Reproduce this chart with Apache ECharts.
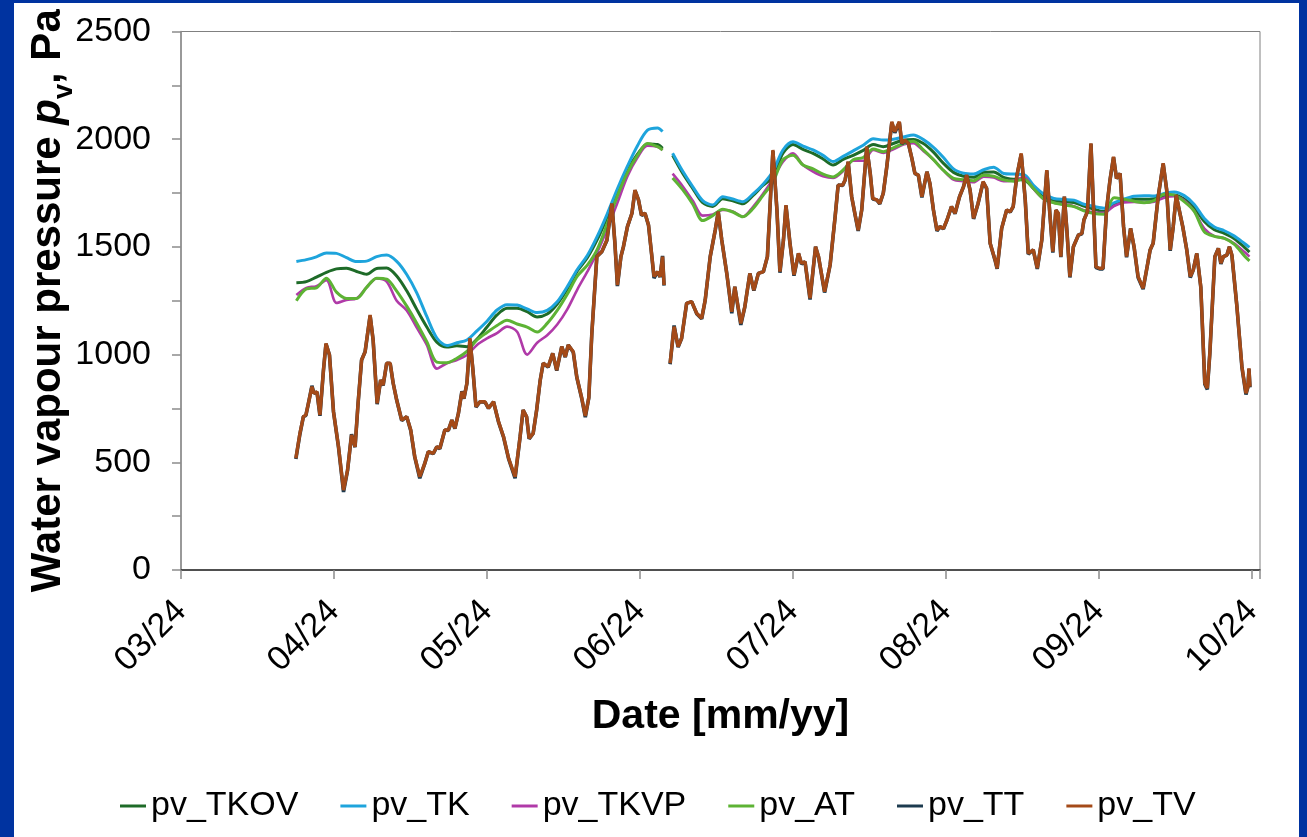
<!DOCTYPE html>
<html><head><meta charset="utf-8">
<script src="https://cdn.jsdelivr.net/npm/echarts@6/dist/echarts.min.js"></script>
<style>
html,body{margin:0;padding:0;width:1307px;height:837px;background:#0033a0;overflow:hidden}
#chart{position:absolute;left:14px;top:3px;width:1285px;height:834px;background:#fff}
</style></head><body><div id="chart"></div>
<script>
// x values are days counted from 03/24 (one axis month = 30.5 days, as on the reference axis)
const tickLabels = ['03/24','04/24','05/24','06/24','07/24','08/24','09/24','10/24'];
const monthDays = 30.5;
const seriesNames = ['pv_TKOV','pv_TK','pv_TKVP','pv_AT','pv_TT','pv_TV'];

const smoothDays = [23,25,27,29,31,33,35,37,39,41,43,45,47,49,51,53,55,57,59,61,63,65,67,69,71,73,75,77,79,81,83,85,87,89,91,93,95,
  96,97,98,
  100,102,104,106,108,110,112,114,116,118,120,122,124,126,128,130,132,134,136,138,140,142,144,146,148,150,152,154,156,158,
  160,162,164,166,168,170,172,174,176,178,180,182,184,186,188,190,192,194,196,198,200,202,204,206,208,210,212,213];

const pvTK = [1432,1441,1454,1472,1470,1450,1432,1434,1455,1462,1433,1372,1287,1177,1077,1042,1055,1068,1110,1155,
  1207,1232,1230,1212,1195,1205,1245,1315,1395,1460,1550,1655,1770,1875,1970,2042,2052,
  2036,null,1935,
  1852,1780,1715,1695,1733,1722,1710,1745,1790,1850,1950,1988,1968,1950,1925,1896,1920,1946,1972,2002,
  1996,2000,2010,2020,1998,1962,1915,1862,1842,1838,1858,1870,1841,1838,1836,1785,1745,1725,1720,1717,
  1698,1688,1680,1705,1722,1735,1738,1736,1748,1755,1738,1697,1632,1592,1575,1550,1516,1498];

const pvTKOV = [1334,1339,1360,1382,1398,1401,1386,1373,1400,1402,1365,1296,1210,1128,1058,1035,1041,1037,1072,1128,
  1184,1215,1215,1199,1175,1188,1235,1305,1388,1450,1535,1640,1750,1855,1930,1978,1975,
  1958,null,1925,
  1842,1772,1705,1688,1724,1714,1700,1738,1785,1825,1935,1975,1953,1934,1908,1880,1906,1925,1948,1975,
  1965,1980,1996,1999,1980,1940,1888,1846,1828,1823,1847,1848,1823,1814,1811,1771,1730,1714,1709,1706,
  1689,1675,1664,1694,1712,1721,1721,1724,1735,1741,1722,1682,1618,1580,1563,1538,1498,1476];

const pvTKVP = [1277,1310,1318,1345,1240,1254,1261,1312,1354,1339,1250,1205,1125,1045,935,960,975,998,1045,1075,
  1100,1130,1106,1000,1055,1090,1140,1210,1302,1385,1475,1585,1705,1828,1915,1970,1965,
  1950,null,1840,
  1782,1715,1645,1650,1671,1665,1640,1685,1745,1815,1895,1934,1880,1850,1828,1820,1852,1900,1900,1950,
  1936,1953,1975,1982,1945,1905,1855,1812,1805,1800,1826,1822,1805,1808,1824,1768,1722,1705,1698,1689,
  1670,1660,1658,1690,1706,1709,1705,1710,1728,1735,1715,1665,1585,1550,1540,1515,1476,1455];

const pvAT = [1250,1305,1310,1355,1290,1261,1261,1312,1355,1350,1295,1225,1146,1060,965,962,983,1015,1068,1103,
  1135,1160,1142,1128,1105,1145,1205,1280,1364,1415,1490,1610,1737,1845,1925,1980,1965,
  1950,null,1820,
  1766,1700,1622,1645,1675,1662,1640,1677,1738,1800,1905,1925,1880,1862,1838,1825,1857,1905,1915,1955,
  1942,1960,1980,1990,1950,1905,1855,1818,1812,1807,1833,1828,1811,1805,1815,1770,1722,1705,1695,1687,
  1668,1655,1652,1728,1721,1712,1705,1715,1745,1740,1710,1665,1570,1549,1540,1512,1458,1435];

const tvDays = [22.9,23.7,24.4,24.9,25.4,26.1,26.5,27.1,27.7,28.4,
  28.9,29.6,30.4,31.4,32.4,33.2,34.0,34.7,35.3,36.0,
  36.7,37.7,38.3,39.1,39.8,40.3,41.0,41.7,42.3,43.0,
  44.0,45.0,45.8,46.6,47.6,48.6,49.3,50.3,51.0,51.6,
  52.6,53.3,54.0,54.6,55.3,56.0,56.4,57.0,57.6,58.2,
  58.8,59.6,60.6,61.3,62.3,63.3,64.3,65.3,66.6,67.6,
  68.2,68.9,69.4,70.2,70.9,71.6,72.2,73.2,74.1,74.9,
  75.9,76.6,77.2,78.2,78.9,79.9,80.6,81.3,81.9,82.9,
  83.9,84.9,85.9,86.5,87.0,87.7,88.2,89.0,89.9,90.5,
  91.2,91.8,92.5,93.2,93.8,94.3,95.0,95.5,96.0,96.3,
  96.9,97.5,98.3,99.1,99.8,100.8,101.8,102.8,103.8,104.5,
  105.5,106.5,107.1,107.8,108.8,109.8,110.4,111.6,112.4,113.4,
  114.2,115.1,116.1,116.9,118.0,118.8,119.4,120.1,120.6,121.4,
  122.2,123.1,123.7,124.4,125.4,126.5,127.1,128.3,129.4,130.4,
  131.0,131.9,132.4,133.0,133.7,134.4,135.0,135.7,136.7,137.4,
  137.9,138.7,139.3,140.0,140.7,141.3,141.7,142.3,143.2,143.7,
  144.3,145.0,145.7,146.3,147.0,147.7,148.7,149.3,150.0,150.7,
  151.3,152.0,152.7,153.6,154.3,155.2,156.0,156.6,157.3,158.0,
  158.9,159.9,160.6,161.3,162.3,162.7,163.6,164.6,165.3,165.9,
  166.6,167.5,168.3,168.9,169.9,170.7,171.6,172.6,173.2,173.8,
  174.4,174.9,175.4,176.1,176.6,177.2,177.9,178.9,179.6,180.0,
  180.7,181.4,181.9,182.4,183.1,183.8,184.5,185.2,185.9,186.5,
  187.2,187.9,188.5,189.3,190.0,190.8,191.8,192.6,193.2,193.8,
  194.8,195.8,196.5,197.2,197.8,198.4,199.0,199.7,200.5,201.2,
  201.8,202.5,203.3,204.1,204.6,205.1,206.1,206.8,207.3,207.8,
  208.5,209.0,209.5,210.5,211.5,212.3,212.7,212.9,213.1];

const pvTV = [519,634,712,720,774,851,820,828,720,928,
  1052,998,735,572,371,464,627,572,774,975,
  1013,1184,1068,774,882,859,960,960,867,789,
  696,712,650,526,433,495,549,542,572,565,
  650,650,696,658,727,828,797,867,1076,928,
  758,781,781,751,781,689,619,519,433,619,
  743,712,611,634,743,880,960,944,1006,928,
  1037,990,1045,1013,897,797,715,800,1099,1455,
  1478,1532,1702,1517,1323,1455,1501,1594,1656,1764,
  1718,1648,1656,1602,1470,1362,1385,1362,1455,1323,
  null,960,1130,1037,1076,1238,1246,1192,1169,1253,
  1455,1578,1664,1532,1377,1199,1315,1145,1222,1377,
  1300,1377,1385,1455,1950,1671,1385,1532,1694,1517,
  1370,1470,1424,1431,1261,1501,1455,1292,1416,1640,
  1787,1787,1811,1896,1733,1648,1578,1671,1965,1841,
  1725,1718,1702,1749,1872,1996,2081,2035,2081,1981,
  1996,1981,1911,1841,1834,1733,1849,1795,1671,1578,
  1594,1586,1625,1687,1656,1733,1780,1834,1764,1633,
  1702,1803,1772,1517,1439,1401,1586,1671,1664,1687,
  1826,1934,1718,1470,1486,1401,1532,1857,1656,1478,
  1671,1656,1455,1733,1578,1362,1501,1555,1563,1625,
  1664,1981,1687,1408,1401,1401,1671,1811,1919,1818,
  1841,1594,1455,1586,1501,1362,1308,1408,1486,1517,
  1733,1888,1764,1486,1594,1741,1671,1594,1486,1362,
  1393,1470,1315,867,844,1006,1455,1493,1424,1455,
  1462,1501,1462,1222,944,820,851,936,851];

const pvTT = [515,630,712,718,774,855,820,826,716,928,
  1050,998,735,570,362,462,630,570,774,975,
  1013,1180,1068,770,882,857,960,958,867,789,
  694,712,648,524,426,495,549,540,572,563,
  650,648,696,656,727,830,795,867,1070,928,
  756,781,779,751,781,687,617,517,426,619,
  743,710,609,634,743,880,960,942,1006,926,
  1037,988,1045,1011,895,795,710,800,1099,1455,
  1478,1530,1700,1517,1318,1455,1501,1594,1656,1762,
  1718,1646,1656,1600,1470,1355,1385,1360,1458,1320,
  null,955,1135,1035,1076,1238,1246,1190,1166,1253,
  1455,1578,1662,1532,1377,1192,1315,1138,1222,1377,
  1297,1377,1385,1455,1945,1671,1380,1532,1692,1517,
  1366,1470,1420,1431,1256,1501,1452,1288,1416,1640,
  1787,1785,1811,1894,1733,1646,1574,1671,1962,1841,
  1722,1718,1700,1749,1872,1996,2076,2030,2078,1978,
  1994,1981,1911,1841,1832,1730,1849,1793,1671,1574,
  1594,1584,1625,1687,1654,1733,1780,1832,1764,1630,
  1702,1800,1772,1517,1436,1398,1586,1671,1662,1687,
  1826,1930,1718,1466,1486,1398,1532,1854,1656,1474,
  1671,1654,1452,1733,1578,1358,1501,1555,1561,1625,
  1664,1978,1687,1404,1398,1398,1671,1811,1916,1818,
  1841,1594,1452,1586,1498,1358,1304,1408,1486,1517,
  1733,1886,1764,1482,1594,1738,1671,1594,1486,1358,
  1393,1470,1312,862,838,1006,1455,1493,1421,1455,
  1462,1501,1460,1222,940,815,851,934,848];

const colors = ['#1e6b28','#1ea4dc','#b03aa8','#5db334','#1d3b4f','#a44a18'];
const widths = [3,3,2.6,3,3.6,3.4];
const FONT = '"Liberation Sans", Arial, sans-serif';

function pairs(xs, ys) { return xs.map((x, i) => [x, ys[i]]); }
const datasets = [
  pairs(smoothDays, pvTKOV), pairs(smoothDays, pvTK), pairs(smoothDays, pvTKVP),
  pairs(smoothDays, pvAT), pairs(tvDays, pvTT), pairs(tvDays, pvTV)
];

const chart = echarts.init(document.getElementById('chart'), null, {renderer: 'canvas'});
chart.setOption({
  animation: false,
  backgroundColor: '#ffffff',
  textStyle: {fontFamily: FONT},
  grid: {left: 167, top: 28.5, right: 39, bottom: 267, show: true, borderColor: '#808080', borderWidth: 1,
         containLabel: false, outerBoundsMode: 'none'},
  legend: {
    left: 101, top: 781, itemWidth: 26, itemHeight: 3, itemGap: 42, icon: 'rect',
    textStyle: {fontSize: 34, color: '#000', fontFamily: FONT},
    data: seriesNames
  },
  xAxis: {
    type: 'value', min: 0, max: 215.1, interval: monthDays,
    name: 'Date [mm/yy]', nameLocation: 'middle', nameGap: 126, nameMoveOverlap: false,
    nameTextStyle: {fontSize: 41, fontWeight: 'bold', color: '#000', fontFamily: FONT},
    axisLine: {show: true, onZero: false, lineStyle: {color: '#2b2b2b', width: 1.5}},
    axisTick: {show: true, length: 9, lineStyle: {color: '#8c8c8c', width: 1.5}},
    axisLabel: {
      rotate: 45, fontSize: 34, color: '#000', margin: 36, align: 'right', verticalAlign: 'middle',
      padding: [0, 0, 17, 0], fontFamily: FONT,
      formatter: v => { const i = Math.round(v / monthDays); return Math.abs(v - i * monthDays) < 0.01 ? (tickLabels[i] || '') : ''; }
    },
    splitLine: {show: false}
  },
  yAxis: {
    type: 'value', min: 0, max: 2500, interval: 500,
    name: '{b|Water vapour pressure }{i|p}{s|v}{b|, Pa}',
    nameLocation: 'middle', nameRotate: 90, nameGap: 112, nameMoveOverlap: false,
    nameTextStyle: {
      fontSize: 42, fontWeight: 'bold', color: '#000', fontFamily: FONT,
      rich: {
        b: {fontSize: 42, fontWeight: 'bold', color: '#000', fontFamily: FONT, lineHeight: 42},
        i: {fontSize: 42, fontWeight: 'bold', fontStyle: 'italic', color: '#000', fontFamily: FONT, lineHeight: 42},
        s: {fontSize: 27, fontWeight: 'bold', color: '#000', fontFamily: FONT, lineHeight: 27, padding: [24, 0, 0, 0], verticalAlign: 'top'}
      }
    },
    axisLine: {show: true, lineStyle: {color: '#8c8c8c', width: 1.5}},
    axisTick: {show: true, length: 9, lineStyle: {color: '#8c8c8c', width: 1.5}},
    minorTick: {show: true, splitNumber: 2, length: 9, lineStyle: {color: '#8c8c8c', width: 1.5}},
    axisLabel: {fontSize: 34, color: '#000', margin: 30, fontFamily: FONT, formatter: v => String(v)},
    splitLine: {show: false}
  },
  series: seriesNames.map((name, k) => ({
    name, type: 'line', data: datasets[k], showSymbol: false, symbol: 'none',
    smooth: k < 4 ? 0.3 : false, connectNulls: false,
    lineStyle: {color: colors[k], width: widths[k]}, itemStyle: {color: colors[k]},
    z: 2 + k
  }))
});
</script></body></html>
